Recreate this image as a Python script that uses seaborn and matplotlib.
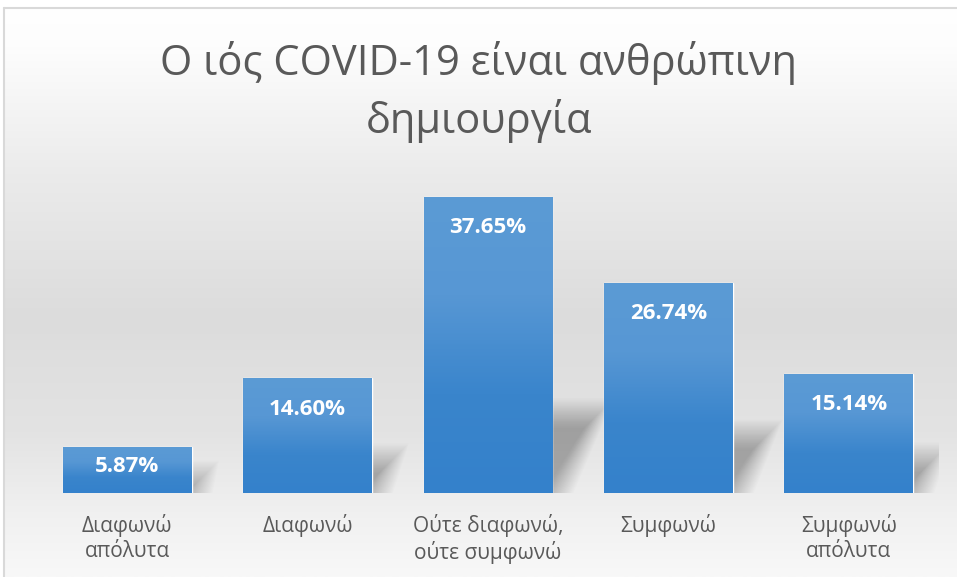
import numpy as np
import pandas as pd
import matplotlib
matplotlib.use("Agg")
import matplotlib.pyplot as plt
import seaborn as sns
from matplotlib.colors import LinearSegmentedColormap
from matplotlib.patches import Polygon

categories = ["Διαφωνώ\nαπόλυτα", "Διαφωνώ", "Ούτε διαφωνώ,\nούτε συμφωνώ",
              "Συμφωνώ", "Συμφωνώ\nαπόλυτα"]
values = [5.87, 14.60, 37.65, 26.74, 15.14]
title = "Ο ιός COVID-19 είναι ανθρώπινη\nδημιουργία"

TEXT = "#595959"

sns.set_theme(style="white")
plt.rcParams["font.family"] = ["Open Sans", "DejaVu Sans"]

fig = plt.figure(figsize=(9.57, 5.77), dpi=100)

# background gradient for the whole chart area
bg = fig.add_axes([0, 0, 1, 1], zorder=-10)
bg_cmap = LinearSegmentedColormap.from_list(
    "bg", [(0.0, "#ffffff"), (0.08, "#fdfdfd"), (0.3, "#ebebeb"),
           (0.55, "#dcdcdc"), (0.75, "#e3e3e3"), (0.9, "#f1f1f1"), (1.0, "#f8f8f8")])
bg.imshow(np.linspace(0, 1, 256).reshape(-1, 1), aspect="auto", cmap=bg_cmap,
          extent=[0, 1, 0, 1], origin="upper")
bg.plot([4 / 957, 4 / 957], [0, 1 - 8 / 577], color="#d9d9d9", lw=1.5)
bg.plot([4 / 957, 1], [1 - 8 / 577, 1 - 8 / 577], color="#d9d9d9", lw=1.5)
bg.fill_between([0, 1], 1 - 7 / 577, 1, color="white")
bg.fill_between([0, 3.2 / 957], 0, 1, color="white")
bg.set_xlim(0, 1)
bg.set_ylim(0, 1)
bg.axis("off")

ax = fig.add_axes([37 / 957, 84 / 577, 902 / 957, 314.5 / 577])
ax.patch.set_alpha(0)
df = pd.DataFrame({"cat": categories, "val": values})
sns.barplot(data=df, x="cat", y="val", color="#4a8fd2", width=0.715,
            saturation=1, ax=ax, zorder=3)
ax.set_ylim(0, 40)
ax.set_xlim(-0.5, 4.5)

bar_cmap = LinearSegmentedColormap.from_list("bar", ["#5b9bd5", "#5797d4", "#3a85cc", "#3481cb"])
px_per_x = 902 / 5.0
px_per_y = 314.5 / 40.0

for p, v in zip(ax.patches, values):
    x0, w, h = p.get_x(), p.get_width(), p.get_height()
    # soft perspective shadow behind the bar (stacked layers fake a blur)
    s = h * 0.25
    shift = 0.55 * s * px_per_y / px_per_x
    for k in range(24):
        gx = (k * 1.3 - 9) / px_per_x
        gy = (k * 1.3 - 9) / px_per_y
        poly = Polygon([(x0 + w * 0.4, 0), (x0 + w + gx, 0),
                        (x0 + w + shift + gx, max(s + gy, 0.2)),
                        (x0 + w * 0.4 + shift, max(s + gy, 0.2))],
                       closed=True, facecolor="black", edgecolor="none",
                       alpha=0.013, zorder=1)
        ax.add_patch(poly)
    # gradient fill
    img = ax.imshow(np.linspace(0, 1, 128).reshape(-1, 1), cmap=bar_cmap,
                    extent=[x0, x0 + w, 0, h], origin="upper", aspect="auto", zorder=4)
    img.set_clip_path(p)
    off = min(31, h * px_per_y * 0.43) / px_per_y
    ax.text(x0 + w / 2, h - off, f"{v:.2f}%", ha="center", va="center",
            color="white", fontsize=16, fontweight="bold", zorder=6)

ax.set_aspect("auto")
ax.set_xlim(-0.5, 4.5)
ax.set_ylim(0, 40)
ax.set_xlabel("")
ax.set_ylabel("")
ax.set_yticks([])
ax.tick_params(axis="x", length=0, pad=15, labelsize=15, labelcolor=TEXT)
for lbl in ax.get_xticklabels():
    lbl.set_linespacing(1.25)
for sp in ax.spines.values():
    sp.set_visible(False)

fig.text(0.5, 1 - 92 / 577, title, ha="center", va="center", fontsize=30,
         color=TEXT, linespacing=1.4)

fig.savefig("out.png", dpi=100)
